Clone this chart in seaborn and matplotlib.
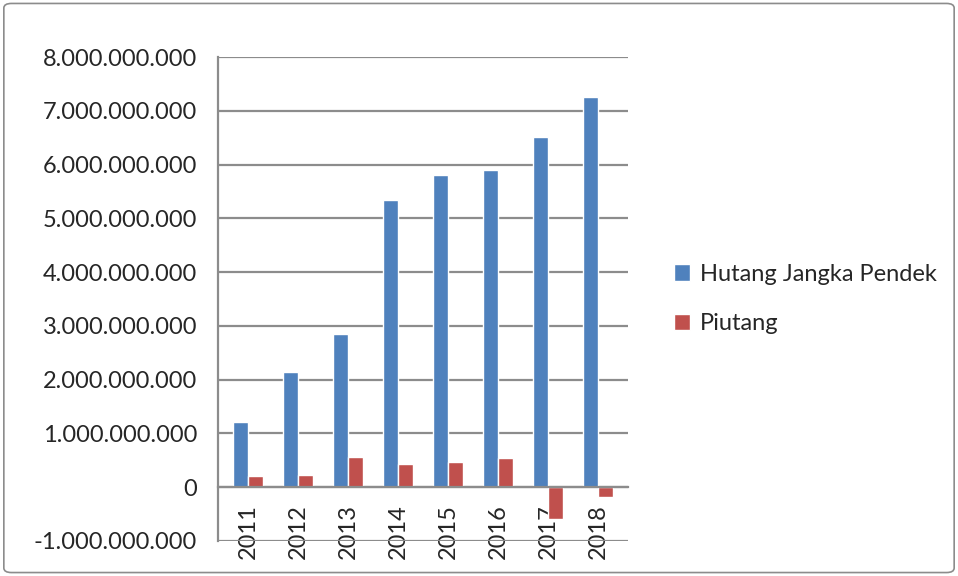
import pandas as pd
import matplotlib.pyplot as plt
import seaborn as sns
from matplotlib.patches import FancyBboxPatch
from matplotlib.ticker import FuncFormatter, MultipleLocator

# data
years = ['2011', '2012', '2013', '2014', '2015', '2016', '2017', '2018']
hutang = [1.22e9, 2.15e9, 2.85e9, 5.35e9, 5.80e9, 5.90e9, 6.52e9, 7.25e9]
piutang = [0.20e9, 0.22e9, 0.57e9, 0.43e9, 0.47e9, 0.55e9, -0.60e9, -0.18e9]

df = pd.DataFrame({
    'Tahun': years * 2,
    'Nilai': hutang + piutang,
    'Seri': ['Hutang Jangka Pendek'] * len(years) + ['Piutang'] * len(years),
})

sns.set_style('white')
plt.rcParams['font.family'] = ['Lato', 'DejaVu Sans']

fig = plt.figure(figsize=(9.58, 5.76), dpi=100)
ax = fig.add_axes([0.2276, 0.0608, 0.428, 0.840])

sns.barplot(data=df, x='Tahun', y='Nilai', hue='Seri',
            palette=['#4F81BD', '#C0504D'], width=0.6, gap=0.05,
            saturation=1, ax=ax, legend=True)

ax.set_ylim(-1e9, 8e9)
ax.set_xlim(-0.6, 7.6)
ax.yaxis.set_major_locator(MultipleLocator(1e9))
ax.yaxis.set_major_formatter(FuncFormatter(lambda v, p: f'{v:,.0f}'.replace(',', '.')))
ax.grid(axis='y', color='#8c8c8c', lw=1.6)
ax.set_axisbelow(True)

for s in ['top', 'right']:
    ax.spines[s].set_visible(False)
ax.spines['left'].set_color('#8c8c8c')
ax.spines['left'].set_linewidth(1.6)
ax.spines['bottom'].set_position(('data', 0))
ax.spines['bottom'].set_color('#8c8c8c')
ax.spines['bottom'].set_linewidth(1.6)

ax.tick_params(axis='y', labelsize=17, length=5, color='#8c8c8c', direction='out', pad=10)
ax.tick_params(axis='x', which='major', labelsize=17, rotation=90, length=0, pad=12)
ax.set_xticks([i + 0.5 for i in range(-1, 8)], minor=True)
ax.tick_params(axis='x', which='minor', length=7, color='#8c8c8c', width=1.6)
ax.set_xlabel('')
ax.set_ylabel('')

ax.legend(loc='center left', bbox_to_anchor=(1.06, 0.5), frameon=False,
          fontsize=17, handlelength=0.7, handleheight=0.7, labelspacing=1.2,
          handletextpad=0.4)

fig.patches.append(FancyBboxPatch((0.004, 0.006), 0.992, 0.988,
                                  boxstyle='round,pad=0,rounding_size=0.008',
                                  transform=fig.transFigure, fill=False,
                                  edgecolor='#8c8c8c', lw=1.2))

fig.savefig('out.png', dpi=100)
